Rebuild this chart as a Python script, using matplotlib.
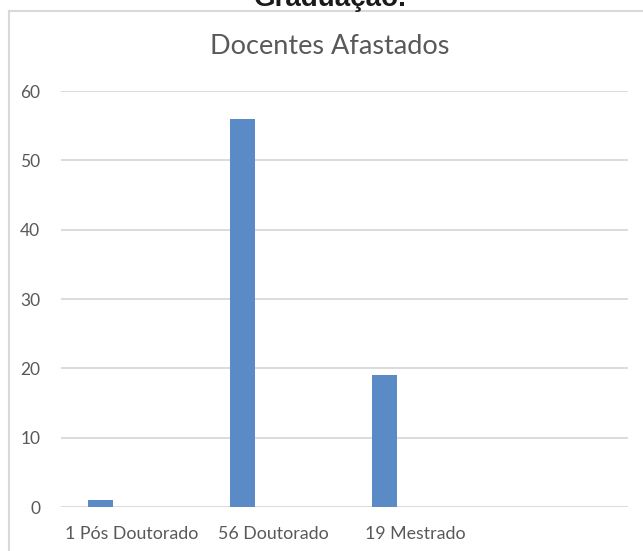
import matplotlib
matplotlib.use("Agg")
import matplotlib.pyplot as plt
from matplotlib.lines import Line2D

categories = ["1 Pós Doutorado", "56 Doutorado", "19 Mestrado", ""]
values = [1, 56, 19]
yticks = [0, 10, 20, 30, 40, 50, 60]
title = "Docentes Afastados"
heading = "Graduação."

plt.rcParams['font.family'] = ['Lato', 'DejaVu Sans']

W, H = 643, 551
fig = plt.figure(figsize=(W / 100, H / 100), dpi=100)
fig.patch.set_facecolor("white")

ax = fig.add_axes([61 / W, 1 - 507 / H, (628 - 61) / W, (507 - 91) / H])
ax.set_xlim(-0.5, len(categories) - 0.5)
ax.set_ylim(0, 60)

xs = [i - 0.22 for i in range(len(values))]
ax.bar(xs, values, width=0.175, color="#5B8BC6", zorder=3)

ax.set_yticks(yticks)
ax.set_yticklabels([str(t) for t in yticks], color="#595959", fontsize=12.5)
ax.set_xticks(range(len(categories)))
ax.set_xticklabels(categories, color="#595959", fontsize=12.8)
ax.tick_params(axis="both", length=0)
ax.tick_params(axis="y", pad=15)
ax.tick_params(axis="x", pad=14)
ax.grid(axis="y", color="#D9D9D9", linewidth=1.3, zorder=0)
ax.set_axisbelow(True)
for s in ax.spines.values():
    s.set_visible(False)

fig.text(330 / W, 1 - 47 / H, title, ha="center", va="center",
         fontsize=19.5, color="#595959")
fig.text(330 / W, 1 - 6 / H, heading, ha="center", va="baseline",
         fontsize=20, fontweight="bold", color="#1a1a1a",
         family=["Liberation Sans", "DejaVu Sans"])

# chart border (left and top visible)
fig.add_artist(Line2D([9 / W, 9 / W], [0, 1 - 11 / H], transform=fig.transFigure,
                      color="#D9D9D9", linewidth=1.5))
fig.add_artist(Line2D([9 / W, 1], [1 - 11 / H, 1 - 11 / H], transform=fig.transFigure,
                      color="#D9D9D9", linewidth=1.5))

fig.savefig("out.png", dpi=100, facecolor="white")
